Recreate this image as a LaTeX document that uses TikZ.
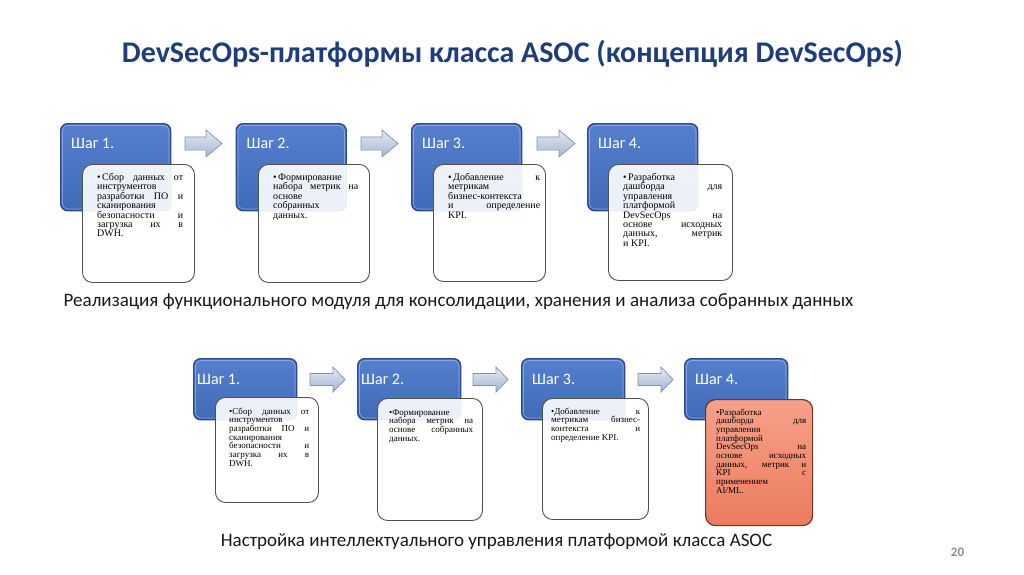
\documentclass[tikz,border=0pt]{standalone}
\usepackage{fontspec}
\setmainfont{Liberation Serif}
\newfontfamily\sansf{Carlito}
\usetikzlibrary{calc}
\definecolor{blueTop}{HTML}{5680CD}
\definecolor{blueBot}{HTML}{4069B8}
\definecolor{blueEdge}{HTML}{2C4C8C}
\definecolor{blueHi}{HTML}{9DB8E6}
\definecolor{titleblue}{HTML}{1F3D7A}
\definecolor{arrTop}{HTML}{E6EBF3}
\definecolor{arrBot}{HTML}{A7B5CF}
\definecolor{arrEdge}{HTML}{7F90B0}
\definecolor{redTop}{HTML}{F5A189}
\definecolor{redBot}{HTML}{EC7C5E}
\definecolor{redEdge}{HTML}{6E3527}
\definecolor{boxEdge}{HTML}{505050}
\definecolor{pagegray}{HTML}{8C8C8C}
\hbadness=10000 \hfuzz=20pt
\newcommand{\topbul}{\noindent\hangindent=5pt\hangafter=1\relax\makebox[5pt][l]{\textbullet}}
\newcommand{\botbul}{\noindent\textbullet}
\newcommand{\barrow}[6]{%
  \draw[arrowshape] (#1,#2-#5) -- (#1+#3-#4,#2-#5) -- (#1+#3-#4,#2-#6) -- (#1+#3,#2)
    -- (#1+#3-#4,#2+#6) -- (#1+#3-#4,#2+#5) -- (#1,#2+#5) -- cycle;}
\tikzset{
  stepbox/.style={draw=blueEdge, line width=1.4pt, rounded corners=7pt, top color=blueTop, bottom color=blueBot, inner sep=0pt, anchor=north west},
  hilite/.style={draw=blueHi, line width=0.7pt, rounded corners=5pt, opacity=0.7},
  detbox/.style={draw=boxEdge, line width=0.9pt, rounded corners=10pt, fill=white, fill opacity=0.9, inner sep=0pt, anchor=north west},
  redbox/.style={draw=redEdge, line width=1.2pt, rounded corners=10pt, top color=redTop, bottom color=redBot, inner sep=0pt, anchor=north west},
  steplabel/.style={font=\sansf\fontsize{16}{18}\selectfont, text=white, inner sep=0pt, anchor=base west},
  topbody/.style={inner sep=0pt, text width=#1, align=justify, anchor=base west, font=\fontsize{10}{9.4}\selectfont},
  botbody/.style={inner sep=0pt, text width=#1, align=justify, anchor=base west, font=\fontsize{9}{8.7}\selectfont},
  arrowshape/.style={draw=arrEdge, line width=0.7pt, top color=arrTop, bottom color=arrBot},
  caption/.style={font=\sansf\fontsize{19}{22}\selectfont, text=black!90, inner sep=0pt, anchor=base}
}
\begin{document}
\begin{tikzpicture}[x=1pt,y=-1pt]
\useasboundingbox[fill=white] (0,0) rectangle (1024,574);

\node[font=\sansf\bfseries\fontsize{30}{36}\selectfont, text=titleblue, inner sep=0pt, anchor=base] (title) at (512.5,62) {DevSecOps-платформы класса ASOC (концепция DevSecOps)};

% ---------- top row ----------
\foreach \i/\x in {1/60,2/235.5,3/411,4/587}{
  \node[stepbox, minimum width=110pt, minimum height=87pt] (b\i) at (\x,123) {};
  \draw[hilite] ($(b\i.north west)+(2.5,2.5)$) rectangle ($(b\i.south east)+(-2.5,-2.5)$);
  \node[steplabel] (b\i t) at ($(b\i.north west)+(11,25)$) {Шаг \i.};
}
\barrow{185}{143.5}{37}{16}{6.6}{13.4}
\barrow{361}{143.5}{37}{16}{6.6}{13.4}
\barrow{537}{143.5}{38}{16}{6.6}{13.4}

\node[detbox, minimum width=112pt, minimum height=118pt] (d1) at (82,164) {};
\node[detbox, minimum width=111pt, minimum height=118pt] (d2) at (258,164) {};
\node[detbox, minimum width=112pt, minimum height=117pt] (d3) at (433,164) {};
\node[detbox, minimum width=124pt, minimum height=116pt] (d4) at (608,164) {};

\node[topbody=86pt] (d1t) at (97,180.5) {\topbul Сбор данных от\linebreak инструментов\newline разработки ПО и\linebreak сканирования\newline безопасности и\linebreak загрузка их в\linebreak DWH.};
\node[topbody=85pt] (d2t) at (273,180.5) {\topbul Формирование\newline набора метрик на\linebreak основе\newline собранных\newline данных.};
\node[topbody=92pt] (d3t) at (448,180.5) {\topbul Добавление к\linebreak метрикам\newline бизнес-контекста\newline и определение\linebreak KPI.};
\node[topbody=99pt] (d4t) at (623,180.5) {\topbul Разработка\newline дашборда для\linebreak управления\newline платформой\newline DevSecOps на\linebreak основе исходных\linebreak данных, метрик\linebreak и KPI.};

\node[caption] (cap1) at (458.5,306) {Реализация функционального модуля для консолидации, хранения и анализа собранных данных};

% ---------- bottom row ----------
\foreach \i/\x/\dx in {1/193/4,2/357/4,3/521/11,4/684/11}{
  \node[stepbox, minimum width=103pt, minimum height=61pt] (c\i) at (\x,358) {};
  \draw[hilite] ($(c\i.north west)+(2.5,2.5)$) rectangle ($(c\i.south east)+(-2.5,-2.5)$);
  \node[steplabel] (c\i t) at ($(c\i.north west)+(\dx,26)$) {Шаг \i.};
}
\barrow{310}{379.5}{35}{12}{6}{12.5}
\barrow{473}{379.5}{35}{12}{6}{12.5}
\barrow{638}{379.5}{35}{12}{6}{12.5}

\node[detbox, minimum width=103pt, minimum height=105pt] (e1) at (215,397) {};
\node[detbox, minimum width=105pt, minimum height=122pt] (e2) at (377,398) {};
\node[detbox, minimum width=106pt, minimum height=121pt] (e3) at (542,398) {};
\node[redbox, minimum width=107pt, minimum height=126pt] (e4) at (705,399) {};

\node[botbody=80pt] (e1t) at (229,414) {\botbul Сбор данных от\linebreak инструментов\newline разработки ПО и\linebreak сканирования\newline безопасности и\linebreak загрузка их в\linebreak DWH.};
\node[botbody=84pt] (e2t) at (389,415) {\botbul Формирование\newline набора метрик на\linebreak основе собранных\linebreak данных.};
\node[botbody=89pt] (e3t) at (551,414) {\botbul Добавление к\linebreak метрикам бизнес-\linebreak контекста и\linebreak определение KPI.};
\node[botbody=90pt] (e4t) at (716,415) {\botbul Разработка\newline дашборда для\linebreak управления\newline платформой\newline DevSecOps на\linebreak основе исходных\linebreak данных, метрик и\linebreak KPI с\linebreak применением\newline AI/ML.};

\node[caption] (cap2) at (496.5,546) {Настройка интеллектуального управления платформой класса ASOC};

\node[font=\sansf\bfseries\fontsize{13}{15}\selectfont, text=pagegray, inner sep=0pt, anchor=base] (pg) at (957.5,556) {20};
\end{tikzpicture}
\end{document}
